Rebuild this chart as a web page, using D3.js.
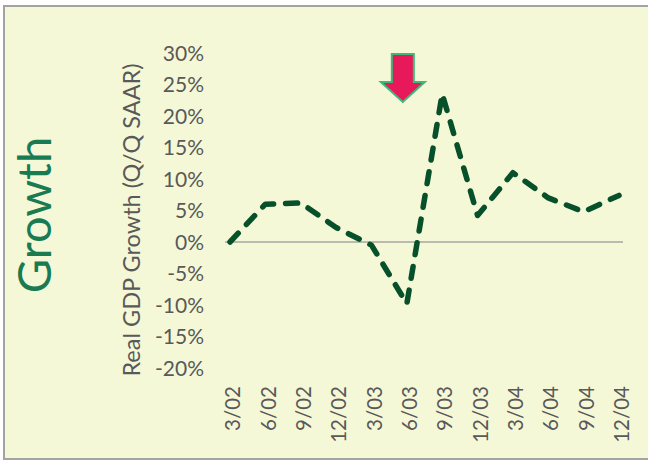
<!DOCTYPE html>
<html><head><meta charset="utf-8">
<script src="https://cdn.jsdelivr.net/npm/d3@7"></script>
<style>html,body{margin:0;padding:0;background:#fff;}svg{display:block;}</style>
</head><body>
<script>
const categories = ["3/02","6/02","9/02","12/02","3/03","6/03","9/03","12/03","3/04","6/04","9/04","12/04"];
const growth = [0.0, 6.0, 6.2, 2.3, -0.5, -9.8, 23.5, 4.2, 11.0, 7.0, 4.8, 7.4];
const yTicks = [30,25,20,15,10,5,0,-5,-10,-15,-20];
const yTitle = "Real GDP Growth (Q/Q SAAR)";
const sideTitle = "Growth";
const markedCategory = "6/03";

const W = 648, H = 462;
const svg = d3.select("body").append("svg").attr("width", W).attr("height", H);

// frame
svg.append("rect").attr("x", 4).attr("y", 6).attr("width", 660).attr("height", 453)
  .attr("fill", "#f5f8d7").attr("stroke", "#a3a3a3").attr("stroke-width", 2);

const x = d3.scalePoint().domain(categories).range([230, 619]);
const y = d3.scaleLinear().domain([-20, 30]).range([368, 53]);

const font = "Lato, 'Open Sans', sans-serif";

// y tick labels
const yAxis = d3.axisLeft(y).tickValues(yTicks).tickFormat(d => d + "%").tickSize(0).tickPadding(0);
const gy = svg.append("g").attr("transform", "translate(204,0)").call(yAxis);
gy.select(".domain").remove();
gy.selectAll("text").attr("font-family", font).attr("font-size", 21).attr("fill", "#595959").attr("dy", "0.35em");

// zero line
svg.append("line").attr("x1", 225).attr("x2", 623).attr("y1", y(0)).attr("y2", y(0))
  .attr("stroke", "#a6a6a6").attr("stroke-width", 1.5);

// x labels
const xAxis = d3.axisBottom(x).tickSize(0).tickPadding(0);
const gx = svg.append("g").attr("transform", "translate(0,386)").call(xAxis);
gx.select(".domain").remove();
gx.selectAll("text").attr("font-family", font).attr("font-size", 20.5).attr("fill", "#595959")
  .attr("text-anchor", "end").attr("transform", "rotate(-90)").attr("x", 0).attr("y", 0).attr("dy", "0.35em")
  .attr("dx", 0);
gx.selectAll(".tick").attr("transform", d => `translate(${x(d) + 3},0)`);

// y title
svg.append("text").attr("transform", `translate(140,220) rotate(-90)`)
  .attr("text-anchor", "middle").attr("font-family", font).attr("font-size", 23.5).attr("fill", "#595959")
  .text(yTitle);

// side title
svg.append("text").attr("transform", `translate(51,215) rotate(-90)`)
  .attr("text-anchor", "middle").attr("font-family", font).attr("font-size", 47).attr("fill", "#1a7a52")
  .text(sideTitle);

// line
const line = d3.line().x((d, i) => x(categories[i])).y(d => y(d));
svg.append("path").datum(growth).attr("d", line).attr("fill", "none")
  .attr("stroke", "#06502a").attr("stroke-width", 5.5).attr("stroke-dasharray", "12 12")
  .attr("stroke-linecap", "round").attr("stroke-linejoin", "round");

// arrow annotation
const ax = x(markedCategory) - 4;
const arrow = [[ax-11,54],[ax+11,54],[ax+11,82],[ax+22,82],[ax,102],[ax-22,82],[ax-11,82]];
svg.append("polygon").attr("points", arrow.map(p => p.join(",")).join(" "))
  .attr("fill", "#e8195a").attr("stroke", "#3dba7a").attr("stroke-width", 2).attr("stroke-linejoin", "miter");
</script>
</body></html>
